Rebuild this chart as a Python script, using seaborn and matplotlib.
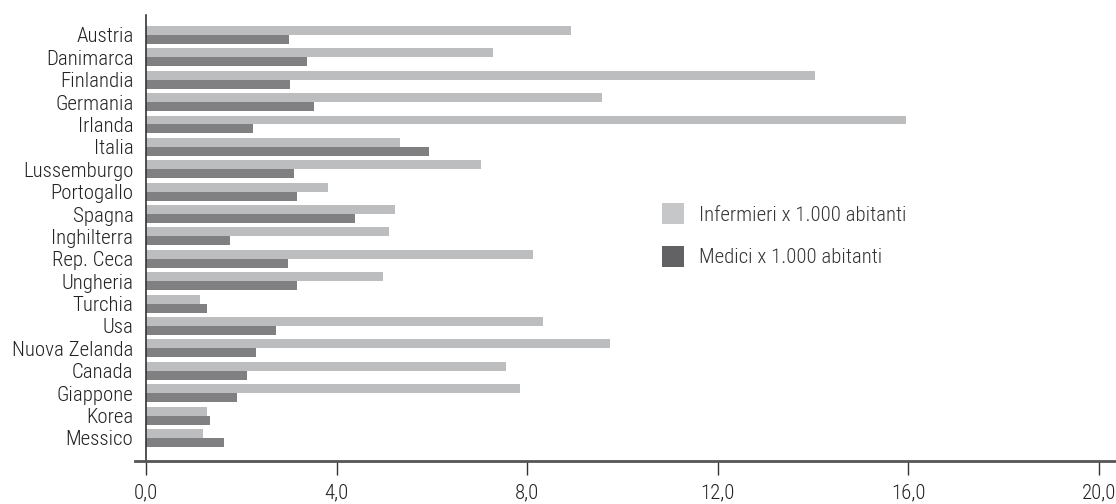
import numpy as np
import pandas as pd
import seaborn as sns
import matplotlib.pyplot as plt
from matplotlib import font_manager as fm
from matplotlib.patches import Patch
from matplotlib.ticker import FuncFormatter, FixedLocator

countries = ["Austria", "Danimarca", "Finlandia", "Germania", "Irlanda", "Italia",
             "Lussemburgo", "Portogallo", "Spagna", "Inghilterra", "Rep. Ceca",
             "Ungheria", "Turchia", "Usa", "Nuova Zelanda", "Canada", "Giappone",
             "Korea", "Messico"]
infermieri = [8.93, 7.29, 14.05, 9.58, 15.95, 5.34, 7.04, 3.83, 5.22, 5.11, 8.13,
              4.97, 1.13, 8.34, 9.73, 7.55, 7.86, 1.29, 1.19]
medici = [3.01, 3.39, 3.03, 3.52, 2.24, 5.95, 3.10, 3.16, 4.38, 1.77, 2.99,
          3.16, 1.28, 2.72, 2.30, 2.13, 1.92, 1.34, 1.63]
series = ["Infermieri x 1.000 abitanti", "Medici x 1.000 abitanti"]
x_ticks = [0, 4, 8, 12, 16, 20]

bar_colors = ["#bcbdbf", "#808082"]
legend_colors = ["#c6c7c9", "#626264"]

sns.set_theme(style="white")

# pick a condensed sans if one is installed
entries = fm.fontManager.ttflist
names = {f.name for f in entries}
family, stretch = None, "normal"
for cand in ["Liberation Sans Narrow", "Roboto Condensed", "Open Sans Condensed",
             "Noto Sans Condensed", "DejaVu Sans Condensed"]:
    if cand in names:
        family, stretch = cand, "normal"
        break
if family is None:
    for fam in ["Noto Sans", "Open Sans", "DejaVu Sans", "Roboto"]:
        if any(f.name == fam and str(f.stretch) in ("condensed", "semi-condensed", "extra-condensed")
               for f in entries):
            family, stretch = fam, "condensed"
            break
if family is None:
    family, stretch = "Roboto", "normal"

weight = "light" if any(f.name == family and f.weight in (300, "light") for f in entries) else "normal"

plt.rcParams['font.family'] = [family, 'DejaVu Sans']
plt.rcParams['font.stretch'] = stretch
plt.rcParams['font.weight'] = weight

fsize = 15

n = len(countries)
df = pd.DataFrame({
    "Paese": countries * 2,
    "Valore": infermieri + medici,
    "Serie": [series[0]] * n + [series[1]] * n,
})

fig = plt.figure(figsize=(11.16, 5.04), dpi=100)
ax = fig.add_axes([135 / 1116, 43 / 504, 1 - 135 / 1116, (461 - 15) / 504])

sns.barplot(data=df, y="Paese", x="Valore", hue="Serie", order=countries,
            hue_order=series, palette=bar_colors, orient="h", width=0.8,
            saturation=1, legend=False, ax=ax, linewidth=0)

ax.set_xlim(-0.23, 20.36)
ax.set_ylim(19.03, -0.89)
ax.set_xlabel("")
ax.set_ylabel("")

for s in ["top", "right"]:
    ax.spines[s].set_visible(False)
ax.spines["left"].set_position(("data", 0))
ax.spines["left"].set_color("#333333")
ax.spines["left"].set_linewidth(1.2)
ax.spines["bottom"].set_color("#555555")
ax.spines["bottom"].set_linewidth(2)

ax.xaxis.set_major_locator(FixedLocator(x_ticks))
ax.xaxis.set_major_formatter(FuncFormatter(lambda v, p: f"{v:.1f}".replace(".", ",")))
ax.tick_params(axis="x", length=10, width=1, color="#333333", direction="out",
               pad=6, labelsize=fsize, labelcolor="#222222", bottom=True)
ax.tick_params(axis="y", length=0, pad=9, labelsize=fsize, labelcolor="#222222")

handles = [Patch(facecolor=c, edgecolor="none") for c in legend_colors]
ax.legend(handles, series, loc="upper left", bbox_to_anchor=(662 / 1116, 1 - 203 / 504),
          bbox_transform=fig.transFigure, frameon=False, borderpad=0,
          handlelength=1.06, handleheight=1.2, handletextpad=0.72,
          labelspacing=1.0, fontsize=fsize, labelcolor="#333333", borderaxespad=0)

fig.savefig("out.png", dpi=100)
